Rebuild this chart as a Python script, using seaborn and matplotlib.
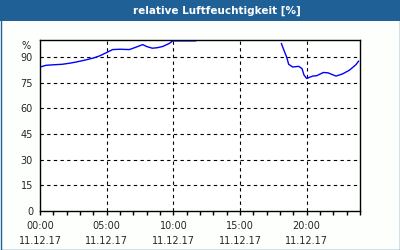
import matplotlib
matplotlib.use("Agg")
import matplotlib.pyplot as plt
import seaborn as sns
import pandas as pd
import numpy as np

# data: hours since 00:00 11.12.17, relative humidity in %
hours_a = [0.0, 0.45, 1.0, 1.67, 2.2, 2.7, 3.4, 4.07, 4.5, 4.95, 5.45, 6.0, 6.7, 7.2, 7.7, 8.0, 8.42, 8.8, 9.2, 9.7, 9.95, 10.5, 11.0, 11.7]
hum_a = [84.2, 85.2, 85.5, 85.8, 86.4, 87.1, 88.3, 89.6, 90.8, 92.5, 94.4, 94.6, 94.4, 95.8, 97.3, 96.2, 95.2, 95.5, 96.2, 98.0, 99.5, 99.5, 99.5, 99.5]
hours_b = [18.1, 18.3, 18.5, 18.65, 18.95, 19.4, 19.65, 19.8, 20.0, 20.45, 20.75, 21.25, 21.6, 22.2, 22.7, 23.2, 23.7, 23.9]
hum_b = [98.0, 93.9, 90.0, 85.8, 84.2, 84.6, 83.3, 79.5, 77.5, 78.9, 79.1, 81.0, 80.8, 78.9, 80.2, 82.3, 85.6, 87.7]

y_ticks = [0, 15, 30, 45, 60, 75, 90]
x_ticks = [0, 5, 10, 15, 20]
x_labels = ["00:00\n11.12.17", "05:00\n11.12.17", "10:00\n11.12.17", "15:00\n11.12.17", "20:00\n11.12.17"]
title = "relative Luftfeuchtigkeit [%]"

df = pd.DataFrame({
    "h": hours_a + hours_b,
    "rh": hum_a + hum_b,
    "seg": ["a"] * len(hours_a) + ["b"] * len(hours_b),
})

sns.set_style("white")
plt.rcParams["font.family"] = ["DejaVu Sans"]

blue = "#1f6096"
fig = plt.figure(figsize=(4, 2.5), dpi=100, facecolor="#fcfffc")
ax = fig.add_axes([0.1, 0.156, 0.8, 0.684])
ax.set_facecolor("white")

sns.lineplot(data=df, x="h", y="rh", units="seg", estimator=None,
             color="#0000ff", linewidth=1.0, ax=ax, legend=False)

ax.set_xlim(0, 24)
ax.set_ylim(0, 100)
ax.set_xticks(x_ticks)
ax.set_xticklabels(x_labels, fontsize=7, linespacing=1.6)
ax.set_xticks(range(0, 25), minor=True)
ax.set_yticks(y_ticks)
ax.set_yticklabels([str(v) for v in y_ticks], fontsize=7)
ax.tick_params(axis="x", which="both", direction="out", length=3, width=1, color="black", pad=4, bottom=True)
ax.tick_params(axis="y", which="both", length=0, pad=5, left=False)
ax.set_xlabel("")
ax.set_ylabel("")
for s in ax.spines.values():
    s.set_color("black")
    s.set_linewidth(1.0)
    s.set_visible(True)

for y in y_ticks[1:]:
    ax.axhline(y, color="black", linewidth=0.8, linestyle=(0, (3, 3)), zorder=0)
for x in x_ticks[1:]:
    ax.axvline(x, color="black", linewidth=0.8, linestyle=(0, (3, 3)), zorder=0)

ax.text(-0.03, 96.5, "%", transform=ax.get_yaxis_transform(), ha="right", va="center", fontsize=7)

# title bar and border
fig.patches.append(plt.Rectangle((0, 1 - 20.5 / 250), 1, 20.5 / 250, transform=fig.transFigure,
                                 facecolor=blue, edgecolor="none", zorder=0))
fig.patches.append(plt.Rectangle((0.5 / 400, 0.5 / 250), 399 / 400, 249 / 250, transform=fig.transFigure,
                                 facecolor="none", edgecolor=blue, linewidth=1.0, zorder=0))
fig.text(217 / 400, 1 - 10.5 / 250, title, color="white", fontsize=7.5, fontweight="bold",
         ha="center", va="center")

fig.savefig("out.png", dpi=100, facecolor=fig.get_facecolor())
